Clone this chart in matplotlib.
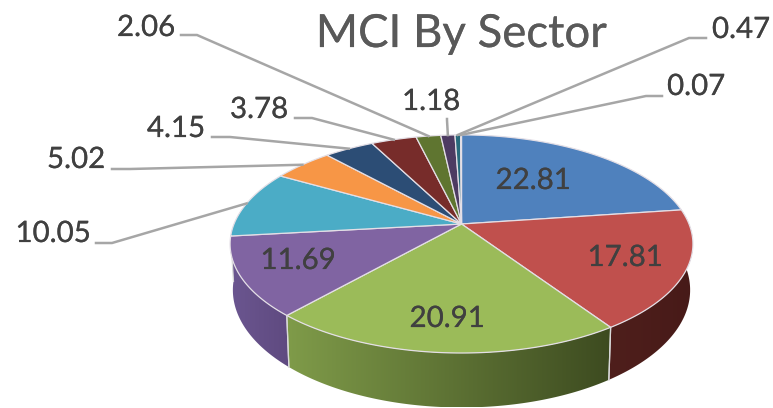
import numpy as np
import matplotlib
matplotlib.use("Agg")
import matplotlib.pyplot as plt
import matplotlib.patheffects as pe
from matplotlib.colors import to_rgb
from matplotlib.patches import Polygon

plt.rcParams['font.family'] = ['Lato', 'DejaVu Sans']

title = 'MCI By Sector'
values = [22.81, 17.81, 20.91, 11.69, 10.05, 5.02, 4.15, 3.78, 2.06, 1.18, 0.47, 0.07]
colors = ['#4F81BD', '#C0504D', '#9BBB59', '#8064A2', '#4BACC6', '#F79646',
          '#2C4D75', '#772C2A', '#5F7530', '#4D3B62', '#276A7C', '#B65708']

# wall shading left to right, only the front walls show
wall_left = {1: '#4f1f1c', 2: '#7f9b49', 3: '#6b5690'}
wall_right = {1: '#471a18', 2: '#3d4b20', 3: '#5f4a80'}

# label centre in pixels, then the knee of its leader
label_pos = {0: (533, 181), 1: (625, 258), 2: (447, 319), 3: (298, 261),
             4: (53, 234), 5: (76, 160), 6: (176, 129), 7: (259, 110),
             8: (146, 28), 9: (431, 102), 10: (741, 30), 11: (696, 87)}
leaders = {4: [(96, 243), (112, 243)], 5: [(112, 169), (130, 169)],
           6: [(212, 137), (230, 137)], 7: [(295, 118), (312, 118)],
           8: [(181, 35), (197, 35)], 9: [(447, 119), (447, 120)],
           10: [(706, 38), (689, 38)], 11: [(662, 96), (646, 96)]}

# perspective of the pie disc, in pixels
cx, cy = 461.5, 224
A, B, k = 227.5, 105.4, 0.183
depth = 44.5


def project(theta, wall=0.0):
    # theta clockwise from the top of the pie
    u, v = np.sin(theta), -np.cos(theta)
    s = 1 / (1 - k * v)
    shrink = 1 - 0.012 * wall
    return cx + A * shrink * u * s, cy + B * v * s + depth * wall * s


fig = plt.figure(figsize=(7.73, 4.08), dpi=100)
ax = fig.add_axes([0, 0, 1, 1])
ax.axis('off')

edges = np.cumsum([0] + values) / sum(values) * 2 * np.pi

# side walls first
for i in wall_left:
    th = np.linspace(edges[i], edges[i + 1], 120)
    xt, yt = project(th)
    xb, yb = project(th, 1.0)
    pts = np.column_stack([np.r_[xt, xb[::-1]], np.r_[yt, yb[::-1]]])
    poly = Polygon(pts, closed=True, fc='none', ec='none')
    ax.add_patch(poly)
    x0, x1 = pts[:, 0].min(), pts[:, 0].max()
    y0, y1 = pts[:, 1].min(), pts[:, 1].max()
    ramp = np.linspace(0, 1, 256)[None, :, None]
    grad = (1 - ramp) * np.array(to_rgb(wall_left[i])) + ramp * np.array(to_rgb(wall_right[i]))
    im = ax.imshow(grad, extent=[x0, x1, y1, y0], aspect='auto', zorder=1)
    im.set_clip_path(poly)
    # seam on the front corners
    for e in (edges[i], edges[i + 1]):
        if np.cos(e) < 0:
            ax.plot(*zip(project(e), project(e, 1.0)), color='#d9d9d9', lw=0.9, zorder=2)

ax.set_xlim(0, 773)
ax.set_ylim(408, 0)

# top faces
for i, c in enumerate(colors):
    th = np.linspace(edges[i], edges[i + 1], 120)
    xt, yt = project(th)
    ax.add_patch(Polygon(np.column_stack([np.r_[cx, xt], np.r_[cy, yt]]), closed=True,
                         fc=c, ec='#e4dfe6', lw=0.9, zorder=3))

# labels and leaders
thicker = [pe.withStroke(linewidth=0.15, foreground='#404040')]
for i, v in enumerate(values):
    x, y = label_pos[i]
    ax.text(x, y, f'{v:.2f}', ha='center', va='center', fontsize=21.2, color='#404040',
            zorder=5, path_effects=thicker)
    if i in leaders:
        mid = (edges[i] + edges[i + 1]) / 2
        pts = leaders[i] + [project(mid)]
        ax.plot(*zip(*pts), color='#a6a6a6', lw=1.8, zorder=4, solid_joinstyle='miter')

ax.text(461, 34, title, ha='center', va='center', fontsize=32.8, color='#595959', zorder=5,
        path_effects=[pe.withStroke(linewidth=0.15, foreground='#595959')])

fig.savefig('out.png', dpi=100)
